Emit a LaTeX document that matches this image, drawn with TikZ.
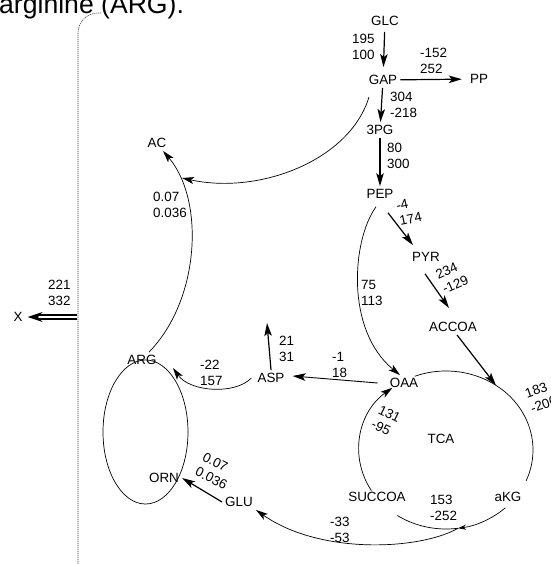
\documentclass[tikz,border=0pt]{standalone}
\usepackage{fontspec}
\setmainfont{Liberation Sans}
\usetikzlibrary{arrows.meta,positioning,calc}

\begin{document}
\begin{tikzpicture}[
    x=1pt, y=-1pt,
    met/.style={inner sep=3pt, font=\fontsize{13.4}{16}\selectfont},
    flux/.style={inner sep=0pt, align=left, anchor=west, font=\fontsize{13.4}{16}\selectfont},
    rflux/.style={inner sep=0pt, align=left, font=\fontsize{13.4}{16}\selectfont},
    arrow/.style={-{Stealth[length=13pt, width=7.5pt, inset=3pt]}, line width=1.2pt},
    curve/.style={-{Stealth[length=12pt, width=7pt, inset=3pt]}, line width=0.7pt},
    cyc/.style={line width=0.7pt}
  ]
    \clip (0,0) rectangle (550,564);

    \node[anchor=base west, inner sep=0pt, font=\fontsize{26.6}{30}\selectfont] (title) at (-1,14) {arginine (ARG).};
    \draw[black!70, line width=0.6pt, dash pattern=on 1.2pt off 0.8pt, rounded corners=20pt] (101,13) -- (78,13) -- (78,570);

    \node[met] (glc) at (385,21) {GLC};
    \node[met] (gap) at (383,80) {GAP};
    \node[met] (pp) at (479,79) {PP};
    \node[met] (pg) at (380,130) {3PG};
    \node[met] (pep) at (380,194) {PEP};
    \node[met] (pyr) at (426,257) {PYR};
    \node[met] (accoa) at (453,327) {ACCOA};
    \node[met] (oaa) at (404,383) {OAA};
    \node[met] (asp) at (271,378) {ASP};
    \node[met] (arg) at (142,360) {ARG};
    \node[met] (ac) at (157,143) {AC};
    \node[met] (orn) at (164,478) {ORN};
    \node[met] (glu) at (239,502) {GLU};
    \node[met] (succoa) at (377,497) {SUCCOA};
    \node[met] (akg) at (508,497) {aKG};
    \node[met] (tca) at (441,439) {TCA};
    \node[met] (x) at (18,317) {X};

    \node[flux] (fglc) at (352,47) {195\\100};
    \node[flux] (fpp) at (420,61) {-152\\252};
    \node[flux] (fgap) at (390,104.5) {304\\-218};
    \node[flux] (fpg) at (387,156) {80\\300};
    \node[rflux, rotate=12] (fpep) at (409,211) {-4\\174};
    \node[rflux, rotate=24] (fpyr) at (452,277) {234\\-129};
    \node[flux] (fppc) at (361,293) {75\\113};
    \node[flux] (fout) at (279,349) {21\\31};
    \node[flux] (foaa) at (332,365) {-1\\18};
    \node[flux] (fasp) at (200,373) {-22\\157};
    \node[flux] (fx) at (48,293) {221\\332};
    \node[flux] (fac) at (153,205) {0.07\\0.036};
    \node[rflux, rotate=-27] (fglu) at (215,471) {0.07\\0.036};
    \node[rflux, rotate=-26] (fsuc) at (386,421) {131\\-95};
    \node[rflux, rotate=20] (fcit) at (541,397) {183\\-206};
    \node[flux] (fakg) at (430,508) {153\\-252};
    \node[flux] (fglut) at (330,530) {-33\\-53};

    \coordinate (tcac) at (446,450);
    \coordinate (acin) at ([shift={(-55:87 and 79)}]tcac);
    \coordinate (tcabot) at ([shift={(82:87 and 79)}]tcac);
    \coordinate (aspout) at (267,323);
    \coordinate (argin) at (173,368);
    \coordinate (acjoin) at (182,178);
    \coordinate (xsrc) at (77,317);

    \draw[arrow, shorten <=3pt, shorten >=5pt] (glc) -- (gap);
    \draw[arrow, shorten >=5pt] (gap) -- (pp);
    \draw[arrow] (gap) -- (pg);
    \draw[arrow] (pg) -- (pep);
    \draw[arrow] ([shift={(8,11)}]pep.south) -- ([shift={(-13,-4)}]pyr.north);
    \draw[arrow] ([shift={(-1,9)}]pyr.south) -- ([shift={(-4,-11)}]accoa.north);
    \draw[arrow] ([xshift=4pt]accoa.south) -- (acin);
    \draw[curve] ([shift={(-4,5)}]pep.south) .. controls (352,240) and (345,330) .. ([xshift=-4pt]oaa.north);
    \draw[-{Stealth[length=13pt, width=7.5pt, inset=3pt]}, line width=0.9pt] ([xshift=-9pt]oaa.west) -- ([shift={(5,-2)}]asp.east);
    \draw[arrow] (asp.north) -- (aspout);
    \draw[curve] ([xshift=-3pt]asp.west) .. controls (235,395) and (190,392) .. (argin);
    \draw[curve] ([xshift=7pt]arg.north) .. controls (200,300) and (205,200) .. ([xshift=6pt]ac.south);
    \draw[curve] ([shift={(-14,9)}]gap.south) .. controls (350,160) and (260,195) .. (acjoin);
    \draw[arrow] (glu.west) -- (orn.east);
    \draw[curve] (tcabot) .. controls (420,550) and (320,555) .. (glu.south east);
    \draw[double, double distance=2.4pt, line width=1.6pt, -{Stealth[length=15pt, width=10pt]}, shorten >=2pt] (xsrc) -- (x);

    \draw[cyc] (145.5,432) ellipse [x radius=42.5, y radius=72];
    \draw[cyc] ([shift={(-111:87 and 79)}]tcac) arc[start angle=-111, end angle=23, x radius=87, y radius=79];
    \draw[cyc, -{Stealth[length=8pt, width=5pt]}] ([shift={(47:87 and 79)}]tcac) arc[start angle=47, end angle=82, x radius=87, y radius=79];
    \draw[cyc] (tcabot) arc[start angle=82, end angle=124, x radius=87, y radius=79];
    \draw[curve] ([shift={(149:87 and 79)}]tcac) arc[start angle=149, end angle=232, x radius=87, y radius=79];
  \end{tikzpicture}
\end{document}
